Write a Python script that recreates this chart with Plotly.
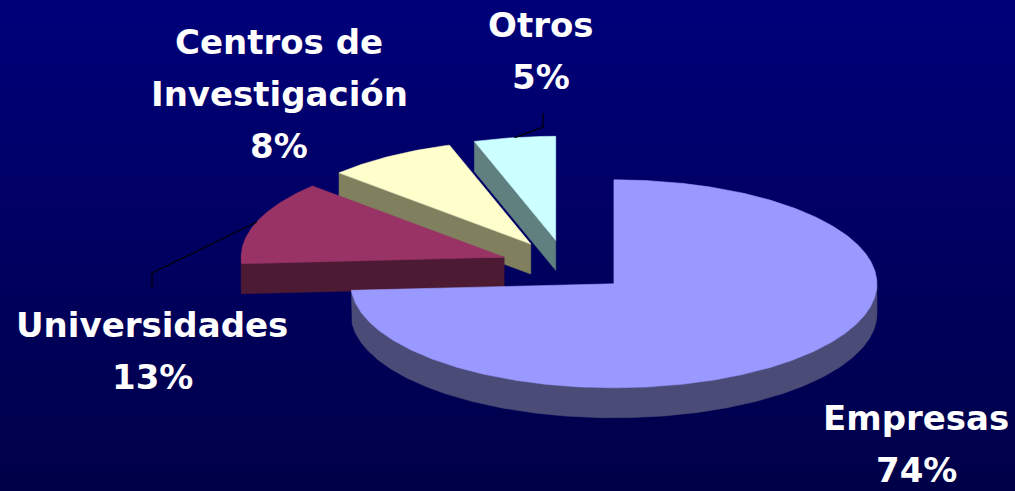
import numpy as np
import plotly.graph_objects as go

# ---- data ----
labels = ["Empresas", "Universidades", "Centros de<br>Investigación", "Otros"]
values = [74, 13, 8, 5]
top_colors = ["#9999FF", "#993366", "#FFFFCC", "#CCFFFF"]
side_colors = ["#4B4B78", "#4C1A33", "#80805F", "#608080"]

# ---- layout / geometry (style, not data) ----
W, H = 1015, 491
CX, CY = 566, 266          # pie centre (pixels)
RX, RY = 263, 104          # ellipse radii of the tilted pie
DEPTH = 30                 # thickness of the pie
PULL = 0.25                # explode fraction for each slice
BG_TOP, BG_BOTTOM = "#00007A", "#000048"

label_pos = [(916, 418), (152, 325), (279, 42), (541, 25)]  # centre of first text line
LINE_GAP = 52
FONT_SIZE = 34
FONT_FAMILY = "DejaVu Sans, Arial, sans-serif"
leaders = {1: [(152, 273), (152, 288)], 3: [(543, 127), (543, 113)]}

fig = go.Figure()

# background gradient
ny = 60
fig.add_trace(go.Heatmap(
    z=np.repeat(np.linspace(0, 1, ny).reshape(-1, 1), 2, axis=1),
    x=[0, W], y=np.linspace(0, H, ny),
    colorscale=[[0, BG_TOP], [1, BG_BOTTOM]],
    showscale=False, hoverinfo="skip", zsmooth="best"))


def rim(ox, oy, ang, dz=0.0):
    a = np.radians(ang)
    return ox + RX * np.cos(a), oy - RY * np.sin(a) + dz


def poly(xs, ys, color):
    fig.add_trace(go.Scatter(
        x=list(xs) + [xs[0]], y=list(ys) + [ys[0]], mode="lines",
        fill="toself", fillcolor=color, line=dict(color=color, width=0.6),
        hoverinfo="skip", showlegend=False))


total = float(sum(values))
slices = []
cum = 0.0
for i, v in enumerate(values):
    a0 = 90 - 360 * cum / total
    a1 = 90 - 360 * (cum + v) / total
    cum += v
    mid = (a0 + a1) / 2
    ox = CX + PULL * RX * np.cos(np.radians(mid))
    oy = CY - PULL * RY * np.sin(np.radians(mid))
    slices.append(dict(i=i, a0=a0, a1=a1, mid=mid, ox=ox, oy=oy))

# painter's order: farther (smaller screen y) first
for s in sorted(slices, key=lambda d: d["oy"]):
    i, a0, a1, ox, oy = s["i"], s["a0"], s["a1"], s["ox"], s["oy"]
    side = side_colors[i]
    # outer rim, visible on the front half
    n = max(3, int(abs(a0 - a1) * 2))
    angs = list(np.linspace(a0, a1, n))
    for k in range(int(np.ceil(a1 / 180)), int(np.floor(a0 / 180)) + 1):
        angs.append(k * 180.0)
    angs = sorted(set(angs), reverse=True)
    run = []
    runs = []
    for a in angs:
        if np.sin(np.radians(a)) <= 1e-9:
            run.append(a)
        else:
            if len(run) > 1:
                runs.append(run)
            run = []
    if len(run) > 1:
        runs.append(run)
    for r in runs:
        up = [rim(ox, oy, a) for a in r]
        dn = [rim(ox, oy, a, DEPTH) for a in reversed(r)]
        pts = up + dn
        poly([p[0] for p in pts], [p[1] for p in pts], side)
    # radial walls facing the viewer
    for a, vis in ((a0, np.cos(np.radians(a0)) < -1e-6), (a1, np.cos(np.radians(a1)) > 1e-6)):
        if vis:
            p1 = rim(ox, oy, a)
            p2 = rim(ox, oy, a, DEPTH)
            poly([ox, p1[0], p2[0], ox], [oy, p1[1], p2[1], oy + DEPTH], side)
    # top face
    tangs = np.linspace(a0, a1, n)
    pts = [(ox, oy)] + [rim(ox, oy, a) for a in tangs]
    poly([p[0] for p in pts], [p[1] for p in pts], top_colors[i])

# leader lines
for s in slices:
    if s["i"] in leaders:
        start = rim(s["ox"], s["oy"], s["mid"])
        pts = [start] + leaders[s["i"]]
        fig.add_trace(go.Scatter(x=[p[0] for p in pts], y=[p[1] for p in pts],
                                 mode="lines", line=dict(color="black", width=1.2),
                                 hoverinfo="skip", showlegend=False))

# labels
for i, lab in enumerate(labels):
    lines = lab.split("<br>") + [f"{values[i]}%"]
    lx, ly = label_pos[i]
    for j, t in enumerate(lines):
        fig.add_annotation(x=lx, y=ly + j * LINE_GAP, text=t, showarrow=False,
                           xanchor="center", yanchor="middle",
                           font=dict(family=FONT_FAMILY, size=FONT_SIZE,
                                     color="white", weight="bold"))

fig.update_layout(
    width=W, height=H, margin=dict(l=0, r=0, t=0, b=0),
    paper_bgcolor=BG_BOTTOM, plot_bgcolor=BG_BOTTOM, showlegend=False,
    xaxis=dict(range=[0, W], visible=False, fixedrange=True),
    yaxis=dict(range=[H, 0], visible=False, fixedrange=True),
)
fig.write_html("out.html", config={"displayModeBar": False},
               post_script="document.body.style.margin='0';document.body.style.overflow='hidden';")
